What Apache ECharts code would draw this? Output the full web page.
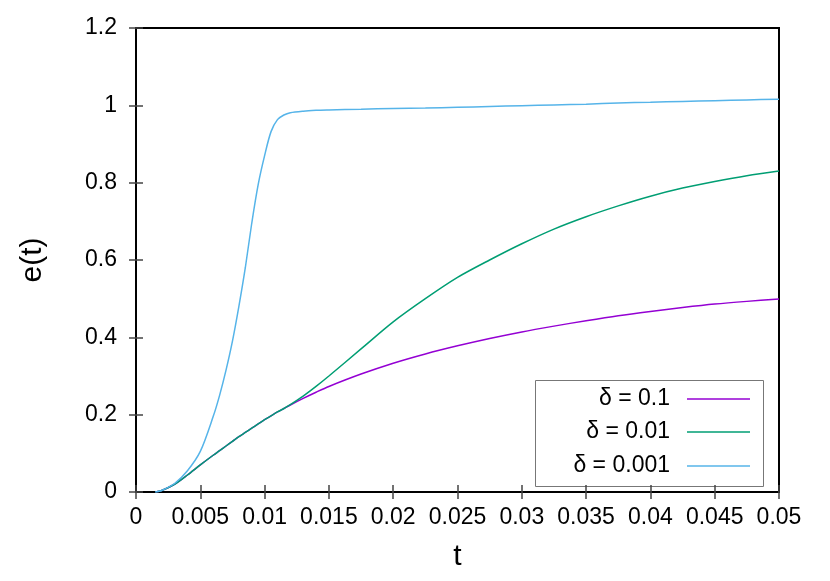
<!DOCTYPE html>
<html lang="en">
<head>
    <meta charset="UTF-8">
    <script src="https://cdn.jsdelivr.net/npm/echarts@6/dist/echarts.min.js"></script>
    <title>e(t)</title>
    <style>
        html, body {
            margin: 0;
            padding: 0;
            width: 100%;
            height: 100%;
            overflow: hidden;
            background: #fff;
        }
        #chart {
            width: 830px;
            height: 581px;
        }
    </style>
</head>
<body>
<div id="chart"></div>
<script>
    // sample times
    var tValues = [0.0015, 0.002, 0.003, 0.004, 0.005, 0.006, 0.0065, 0.007, 0.0075, 0.008, 0.0085,
        0.009, 0.0095, 0.01, 0.0105, 0.011, 0.0115, 0.012, 0.013, 0.014, 0.015, 0.0175, 0.02,
        0.0225, 0.025, 0.0275, 0.03, 0.0325, 0.035, 0.0375, 0.04, 0.0425, 0.045, 0.0475, 0.05];

    var e01 = [0, 0.004, 0.02, 0.044, 0.07, 0.095, 0.107, 0.119, 0.131, 0.143, 0.154,
        0.165, 0.176, 0.187, 0.197, 0.207, 0.216, 0.225, 0.242, 0.258, 0.273, 0.305, 0.333,
        0.357, 0.378, 0.397, 0.414, 0.429, 0.443, 0.456, 0.467, 0.477, 0.486, 0.493, 0.499];

    var e001 = [0, 0.004, 0.02, 0.044, 0.07, 0.095, 0.107, 0.119, 0.131, 0.143, 0.154,
        0.165, 0.176, 0.187, 0.197, 0.207, 0.216, 0.226, 0.248, 0.273, 0.3, 0.37, 0.44,
        0.5, 0.555, 0.6, 0.642, 0.68, 0.712, 0.74, 0.765, 0.786, 0.803, 0.818, 0.83];

    var e0001 = [0, 0.004, 0.022, 0.055, 0.105, 0.195, 0.25, 0.315, 0.39, 0.48, 0.58,
        0.695, 0.795, 0.87, 0.932, 0.963, 0.975, 0.981, 0.985, 0.987, 0.988, 0.99, 0.992,
        0.993, 0.995, 0.997, 0.999, 1.001, 1.003, 1.006, 1.008, 1.01, 1.012, 1.014, 1.016];

    var seriesNames = ['δ = 0.1', 'δ = 0.01', 'δ = 0.001'];
    var colors = ['#9400d3', '#009e73', '#56b4e9'];

    function pairs(vals) {
        return tValues.map(function (t, i) { return [t, vals[i]]; });
    }

    var font = 'Liberation Sans, Arial, sans-serif';
    var tickStyle = {show: true, inside: true, length: 7, lineStyle: {color: '#444', width: 1.5}};

    function legendFor(name, top) {
        return {
            data: [name],
            right: 80,
            top: top,
            orient: 'vertical',
            align: 'right',
            padding: 0,
            icon: 'rect',
            itemWidth: 63,
            itemHeight: 1.5,
            textStyle: {fontSize: 23, fontFamily: font, color: '#000', lineHeight: 24, padding: [0, 12, 0, 0]}
        };
    }

    var myChart = echarts.init(document.getElementById('chart'));
    var option = {
        animation: false,
        color: colors,
        grid: {
            left: 136, right: 51, top: 28, bottom: 89,
            show: true, borderColor: '#000', borderWidth: 2
        },
        legend: [
            legendFor(seriesNames[0], 387),
            legendFor(seriesNames[1], 420),
            legendFor(seriesNames[2], 454)
        ],
        graphic: [{
            type: 'rect',
            shape: {x: 535.5, y: 380.5, width: 228, height: 106},
            style: {fill: 'none', stroke: '#777', lineWidth: 1},
            z: 0
        }],
        xAxis: [{
            type: 'value', min: 0, max: 0.05, interval: 0.005,
            name: 't', nameLocation: 'middle', nameGap: 50,
            nameTextStyle: {fontSize: 30, fontFamily: font, color: '#000'},
            axisLine: {show: true, lineStyle: {color: '#000', width: 2}},
            axisTick: tickStyle,
            splitLine: {show: false},
            axisLabel: {
                fontSize: 23, fontFamily: font, color: '#000', margin: 14,
                formatter: function (v) { return String(+v.toFixed(4)); }
            }
        }, {
            type: 'value', position: 'top', min: 0, max: 0.05, interval: 0.005,
            axisLine: {show: true, lineStyle: {color: '#000', width: 2}},
            axisTick: tickStyle,
            axisLabel: {show: false},
            splitLine: {show: false}
        }],
        yAxis: [{
            type: 'value', min: 0, max: 1.2, interval: 0.2,
            name: 'e(t)', nameLocation: 'middle', nameGap: 88,
            nameTextStyle: {fontSize: 30, fontFamily: font, color: '#000'},
            axisLine: {show: true, lineStyle: {color: '#000', width: 2}},
            axisTick: tickStyle,
            splitLine: {show: false},
            axisLabel: {
                fontSize: 23, fontFamily: font, color: '#000', margin: 19,
                formatter: function (v) { return String(+v.toFixed(1)); }
            }
        }, {
            type: 'value', position: 'right', min: 0, max: 1.2, interval: 0.2,
            axisLine: {show: true, lineStyle: {color: '#000', width: 2}},
            axisTick: tickStyle,
            axisLabel: {show: false},
            splitLine: {show: false}
        }],
        series: [e01, e001, e0001].map(function (vals, i) {
            return {
                name: seriesNames[i],
                type: 'line',
                data: pairs(vals),
                showSymbol: false,
                symbol: 'none',
                smooth: 0.3,
                lineStyle: {width: 1.5, color: colors[i]},
                itemStyle: {color: colors[i]},
                z: 2 + i
            };
        })
    };
    myChart.setOption(option);
</script>
</body>
</html>
